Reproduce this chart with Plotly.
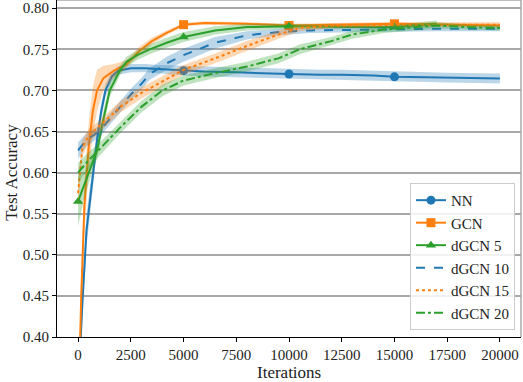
import plotly.graph_objects as go

# iterations / mean accuracy / spread (std) for each model
nn_x = [0, 200, 400, 700, 900, 1100, 1300, 1600, 1900, 2500, 3200, 3800, 5000, 6000,
        7500, 8500, 10000, 11500, 12500, 14000, 15000, 16500, 17500, 19000, 20000]
nn_y = [0.33, 0.44, 0.53, 0.60, 0.64, 0.675, 0.700, 0.717, 0.724, 0.727, 0.727, 0.726,
        0.724, 0.723, 0.722, 0.721, 0.720, 0.719, 0.719, 0.718, 0.7165, 0.716, 0.7155,
        0.715, 0.7145]
nn_s = [0.02, 0.02, 0.02, 0.015, 0.012, 0.01, 0.008, 0.006, 0.005, 0.005, 0.005, 0.005,
        0.006, 0.006, 0.006, 0.006, 0.006, 0.006, 0.006, 0.006, 0.006, 0.006, 0.006,
        0.006, 0.006]

gcn_x = [0, 150, 300, 500, 700, 900, 1200, 1700, 2300, 2900, 3500, 4200, 5000, 6000,
         8000, 10000, 12500, 15000, 17500, 20000]
gcn_y = [0.30, 0.45, 0.56, 0.63, 0.675, 0.700, 0.715, 0.724, 0.732, 0.748, 0.760, 0.770,
         0.780, 0.782, 0.781, 0.779, 0.780, 0.781, 0.780, 0.779]
gcn_s = [0.03, 0.03, 0.03, 0.03, 0.03, 0.025, 0.015, 0.008, 0.005, 0.005, 0.004, 0.003,
         0.002, 0.002, 0.002, 0.002, 0.002, 0.002, 0.002, 0.002]

d5_x = [0, 300, 600, 900, 1200, 1500, 2000, 2300, 2800, 3400, 4200, 5000, 6500, 8000,
        10000, 12500, 15000, 17000]
d5_y = [0.565, 0.585, 0.605, 0.627, 0.665, 0.700, 0.725, 0.735, 0.743, 0.750, 0.758,
        0.765, 0.773, 0.777, 0.778, 0.777, 0.777, 0.781]
d5_s = [0.03, 0.015, 0.01, 0.01, 0.01, 0.008, 0.006, 0.006, 0.006, 0.006, 0.006, 0.006,
        0.005, 0.004, 0.003, 0.003, 0.003, 0.004]

d10_x = [0, 400, 1000, 1500, 2000, 2500, 3000, 3400, 4200, 5000, 6500, 8000, 9500,
         11000, 14000, 17000, 20000]
d10_y = [0.627, 0.640, 0.650, 0.665, 0.680, 0.695, 0.708, 0.720, 0.733, 0.743, 0.758,
         0.767, 0.771, 0.773, 0.774, 0.775, 0.775]
d10_s = [0.01, 0.008, 0.007, 0.007, 0.007, 0.007, 0.007, 0.007, 0.008, 0.008, 0.007,
         0.005, 0.004, 0.003, 0.003, 0.003, 0.003]

d15_x = [0, 200, 500, 1000, 1500, 2000, 3000, 4000, 5000, 6500, 8000, 9500, 10500,
         12000, 15000, 17500, 20000]
d15_y = [0.575, 0.630, 0.645, 0.656, 0.668, 0.680, 0.697, 0.711, 0.725, 0.739, 0.754,
         0.768, 0.776, 0.779, 0.780, 0.780, 0.780]
d15_s = [0.015, 0.01, 0.008, 0.007, 0.007, 0.007, 0.007, 0.006, 0.006, 0.006, 0.006,
         0.005, 0.004, 0.003, 0.003, 0.003, 0.003]

d20_x = [0, 500, 1000, 2000, 3000, 4000, 5000, 6500, 8000, 9500, 10500, 12000, 13000,
         14500, 16000, 17000, 18500, 20000]
d20_y = [0.600, 0.615, 0.628, 0.655, 0.680, 0.700, 0.712, 0.721, 0.729, 0.739, 0.750,
         0.760, 0.768, 0.774, 0.777, 0.779, 0.777, 0.776]
d20_s = [0.012, 0.01, 0.008, 0.007, 0.007, 0.007, 0.006, 0.006, 0.006, 0.006, 0.006,
         0.005, 0.005, 0.004, 0.004, 0.004, 0.003, 0.003]

blue, orange, green = "#1f77b4", "#ff7f0e", "#2ca02c"
fills = {blue: "rgba(31,119,180,0.3)", orange: "rgba(255,127,14,0.3)",
         green: "rgba(44,160,44,0.3)"}

series = [
    ("NN", nn_x, nn_y, nn_s, blue, "solid", "circle"),
    ("GCN", gcn_x, gcn_y, gcn_s, orange, "solid", "square"),
    ("dGCN 5", d5_x, d5_y, d5_s, green, "solid", "triangle-up"),
    ("dGCN 10", d10_x, d10_y, d10_s, blue, "dash", None),
    ("dGCN 15", d15_x, d15_y, d15_s, orange, "dot", None),
    ("dGCN 20", d20_x, d20_y, d20_s, green, "dashdot", None),
]

fig = go.Figure()
for name, x, y, s, col, dash, sym in series:
    upper = [a + b for a, b in zip(y, s)]
    lower = [a - b for a, b in zip(y, s)]
    fig.add_trace(go.Scatter(x=x, y=upper, mode="lines", line=dict(width=0),
                             showlegend=False, hoverinfo="skip"))
    fig.add_trace(go.Scatter(x=x, y=lower, mode="lines", line=dict(width=0),
                             fill="tonexty", fillcolor=fills[col],
                             showlegend=False, hoverinfo="skip"))
    fig.add_trace(go.Scatter(x=x, y=y, mode="lines", name=name, showlegend=sym is None,
                             line=dict(color=col, width=2, dash=dash)))
    if sym:
        # markers only every 5000 iterations
        mx = [v for v in x if v % 5000 == 0 and v < 20000]
        my = [b for v, b in zip(x, y) if v % 5000 == 0 and v < 20000]
        fig.add_trace(go.Scatter(x=mx, y=my, mode="markers", showlegend=False,
                                 marker=dict(symbol=sym, size=9, color=col)))
        # legend entry with line + marker
        fig.add_trace(go.Scatter(x=[None], y=[None], mode="lines+markers", name=name,
                                 line=dict(color=col, width=2, dash=dash),
                                 marker=dict(symbol=sym, size=9, color=col)))

fig.update_layout(
    width=523, height=382,
    margin=dict(l=57, r=2, t=0, b=45),
    plot_bgcolor="white", paper_bgcolor="white",
    font=dict(family="Liberation Serif", size=15, color="#222"),
    legend=dict(x=0.987, y=0.021, xanchor="right", yanchor="bottom",
                traceorder="normal",
                bgcolor="rgba(255,255,255,0.85)", bordercolor="#cccccc",
                borderwidth=1, font=dict(size=15), itemwidth=30,
                tracegroupgap=0),
    xaxis=dict(range=[-1000, 21000], tickvals=list(range(0, 20001, 2500)),
               tickformat="d", automargin=False,
               showgrid=False, zeroline=False, showline=True, linecolor="black",
               linewidth=1.2, ticks="outside", ticklen=4, tickcolor="black"),
    yaxis=dict(range=[0.40, 0.81], tickvals=[0.40 + 0.05 * i for i in range(9)],
               tickformat=".2f", automargin=False,
               showgrid=True, gridcolor="#a8a8a8", gridwidth=1.5,
               zeroline=False, showline=True, linecolor="black", linewidth=1.2,
               ticks="outside", ticklen=4, tickcolor="black"),
    shapes=[
        dict(type="line", xref="paper", yref="paper", x0=0, x1=1, y0=1, y1=1,
             line=dict(color="#a8a8a8", width=1.5)),
        dict(type="line", xref="paper", yref="paper", x0=1, x1=1, y0=0, y1=1,
             line=dict(color="#a8a8a8", width=1.5)),
    ],
    annotations=[
        dict(text="Iterations", xref="paper", yref="paper", x=0.5, y=-0.104,
             xanchor="center", yanchor="middle", showarrow=False,
             font=dict(size=17)),
        dict(text="Test Accuracy", xref="paper", yref="paper", x=-0.097, y=0.49,
             xanchor="center", yanchor="middle", textangle=-90, showarrow=False,
             font=dict(size=17)),
    ],
)

# no page margin so the figure sits at the window's corner
fig.write_html("out.html", config={"displayModeBar": False},
               post_script="document.body.style.margin='0';")
